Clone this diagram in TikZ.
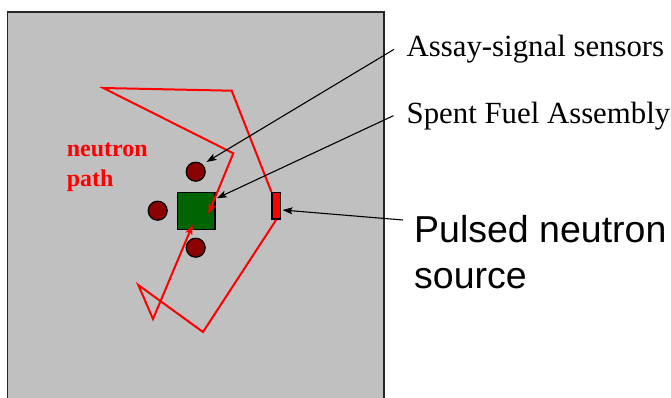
\documentclass[tikz,border=0pt]{standalone}
\usepackage{fontspec}
\setmainfont{Liberation Serif}
\newfontfamily\arialfont{Liberation Sans}
\usetikzlibrary{arrows.meta}
\definecolor{panelgray}{HTML}{C0C0C0}
\definecolor{fuelgreen}{HTML}{006400}
\definecolor{sensorred}{HTML}{8B0000}
\begin{document}
\begin{tikzpicture}[x=1pt,y=-1pt,
  sensor/.style={circle, draw=black, line width=1.2pt, fill=sensorred, minimum size=19pt, inner sep=0pt},
  fuelbox/.style={rectangle, draw=black, line width=1.2pt, fill=fuelgreen, minimum width=37.5pt, minimum height=37pt, inner sep=0pt},
  srcbox/.style={rectangle, draw=black, line width=1.2pt, fill=red, minimum width=8.5pt, minimum height=26.5pt, inner sep=0pt},
  npath/.style={draw=red, line width=2pt, line join=miter},
  npatharrow/.style={npath, -{Stealth[length=10pt,width=7pt,inset=2pt]}},
  callout/.style={draw=black, line width=1.1pt, -{Stealth[length=10pt,width=7pt,inset=2pt]}},
  seriflabel/.style={font=\fontsize{30.8}{34}\selectfont, inner sep=0pt, anchor=base west},
  sanslabel/.style={font=\arialfont\fontsize{37.5}{46}\selectfont, inner sep=0pt, align=left},
  pathlabel/.style={font=\bfseries\fontsize{24}{30}\selectfont, text=red, inner sep=0pt, align=left}
]
\useasboundingbox (0,0) rectangle (671,397);
\clip (0,0) rectangle (671,397);
% panel
\draw[fill=panelgray, draw=black!85, line width=1.2pt] (7.5,12) rectangle (384,410);

% objects
\node[sensor] (s1) at (195.7,171.7) {};
\node[sensor] (s2) at (157.7,210.7) {};
\node[sensor] (s3) at (195.7,247.7) {};
\node[fuelbox] (fa) at (196.2,211) {};
\node[srcbox] (src) at (276.3,205.8) {};

% neutron path
\coordinate (t1) at (208.3,214);
\coordinate (t2) at (192.8,224.5);
\coordinate (p1) at (231.7,90.7);
\coordinate (p2) at (103.3,88);
\coordinate (p3) at (233.3,153.3);
\coordinate (q1) at (203,332);
\coordinate (q2) at (138.3,285);
\coordinate (q3) at (153,319);
\draw[npatharrow] (src.north west) -- (p1) -- (p2) -- (p3) -- (t1);
\draw[npatharrow] (src.south) -- (q1) -- (q2) -- (q3) -- (t2);

\node[pathlabel, anchor=base west] (nl) at (66.7,186) {neutron\\path};

% labels
\node[seriflabel] (la) at (406.5,56.7) {Assay-signal sensors};
\node[seriflabel] (lb) at (406.5,123) {Spent Fuel Assembly};
\node[sanslabel, anchor=base west] (lc) at (414,288) {Pulsed neutron\\source};

\coordinate (a1) at (206.5,162);
\coordinate (a2) at (216.7,198.3);
\coordinate (a3) at (282.5,210);
\coordinate (c3) at (403,220);
\draw[callout] ([xshift=-12.5pt]la.west) -- (a1);
\draw[callout] ([xshift=-13pt]lb.west) -- (a2);
\draw[callout] (c3) -- (a3);
\end{tikzpicture}
\end{document}
